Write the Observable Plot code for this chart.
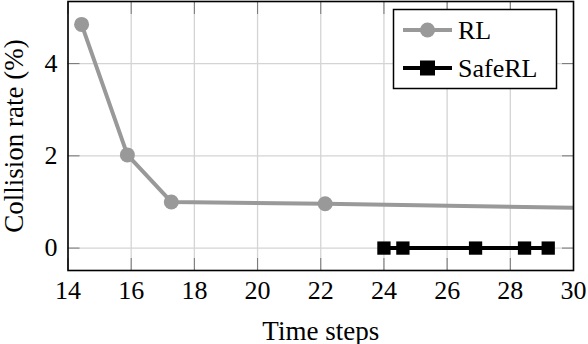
<!DOCTYPE html>
<html>
<head>
<meta charset="utf-8">
<script src="https://cdn.jsdelivr.net/npm/d3@7"></script>
<script src="https://cdn.jsdelivr.net/npm/@observablehq/plot@0.6"></script>
<style>
  html, body { margin: 0; padding: 0; background: white; }
  svg { display: block; }
</style>
</head>
<body>
<div id="chart"></div>
<script>
// ---- data ----
const seriesNames = ["RL", "SafeRL"];
const rlX = [14.43, 15.88, 17.27, 22.14, 33.0];
const rlY = [4.85, 2.02, 1.0, 0.96, 0.84];
const safeX = [24.0, 24.6, 26.9, 28.45, 29.2];
const safeY = [0, 0, 0, 0, 0];
const xTicks = [14, 16, 18, 20, 22, 24, 26, 28, 30];
const yTicks = [0, 2, 4];
const xLabel = "Time steps";
const yLabel = "Collision rate (%)";

const rl = rlX.map((x, i) => ({x, y: rlY[i], s: seriesNames[0]}));
const safe = safeX.map((x, i) => ({x, y: safeY[i], s: seriesNames[1]}));

const GRAY = "#999999";
const FONT = "'Liberation Serif', 'Times New Roman', Tinos, 'DejaVu Serif', serif";

const plot = Plot.plot({
  width: 588,
  height: 344,
  marginLeft: 67.5,
  marginRight: 15,
  marginTop: 1,
  marginBottom: 74,
  style: {background: "white", color: "black", overflow: "visible"},
  x: {domain: [14, 30]},
  y: {domain: [-0.486, 5.346]},
  marks: [
    Plot.gridX(xTicks, {stroke: "#d4d4d4", strokeOpacity: 1, strokeWidth: 1.3}),
    Plot.gridY(yTicks, {stroke: "#d4d4d4", strokeOpacity: 1, strokeWidth: 1.3}),
    // inward ticks on all sides
    Plot.axisX(xTicks, {anchor: "bottom", tickSize: -12, stroke: "#777", text: null, label: null}),
    Plot.axisX(xTicks, {anchor: "top", tickSize: -12, stroke: "#777", text: null, label: null}),
    Plot.axisY(yTicks, {anchor: "left", tickSize: -12, stroke: "#777", text: null, label: null}),
    Plot.axisY(yTicks, {anchor: "right", tickSize: -12, stroke: "#777", text: null, label: null}),
    // labels
    Plot.axisX(xTicks, {anchor: "bottom", tickSize: 0, tickPadding: 10.5, fontFamily: FONT, fontSize: 26, label: xLabel, labelAnchor: "center", labelArrow: "none", labelOffset: 69}),
    Plot.axisY(yTicks, {anchor: "left", tickSize: 0, tickPadding: 10.5, fontFamily: FONT, fontSize: 26, label: yLabel, labelAnchor: "center", labelArrow: "none", labelOffset: 64}),
    // series
    Plot.line(rl, {x: "x", y: "y", stroke: GRAY, strokeWidth: 4, clip: true}),
    Plot.dot(rl, {x: "x", y: "y", r: 7.5, fill: GRAY, stroke: "none", clip: true}),
    Plot.line(safe, {x: "x", y: "y", stroke: "black", strokeWidth: 4, clip: true}),
    Plot.dot(safe, {x: "x", y: "y", symbol: "square", r: 7.5, fill: "black", stroke: "none"}),
    Plot.frame({stroke: "black", strokeWidth: 1.6})
  ]
});

document.getElementById("chart").appendChild(plot);

// ---- legend (inside plot, top right) ----
const svg = d3.select(plot);
const lg = svg.append("g").attr("text-anchor", "start");
lg.append("rect")
  .attr("x", 393.5).attr("y", 9.5).attr("width", 163).attr("height", 79)
  .attr("fill", "white").attr("stroke", "black").attr("stroke-width", 1.5);
const legendStyles = [
  {name: seriesNames[0], color: GRAY, shape: "circle"},
  {name: seriesNames[1], color: "black", shape: "square"}
];
legendStyles.forEach((d, i) => {
  const cy = 30 + i * 38;
  lg.append("line").attr("x1", 403).attr("x2", 452).attr("y1", cy).attr("y2", cy)
    .attr("stroke", d.color).attr("stroke-width", 4);
  if (d.shape === "circle") {
    lg.append("circle").attr("cx", 427.5).attr("cy", cy).attr("r", 7.5).attr("fill", d.color);
  } else {
    lg.append("rect").attr("x", 420).attr("y", cy - 7.5).attr("width", 15).attr("height", 15).attr("fill", d.color);
  }
  lg.append("text").attr("x", 458).attr("y", cy).attr("dy", "0.33em")
    .attr("text-anchor", "start").attr("fill", "black").text(d.name);
});

// serif font on every text element; axis titles slightly larger
svg.selectAll("text").style("font-family", FONT).style("font-size", "26px");
svg.selectAll("text").filter(function() { return this.textContent === xLabel || this.textContent === yLabel; })
  .style("font-size", "27px");
</script>
</body>
</html>
